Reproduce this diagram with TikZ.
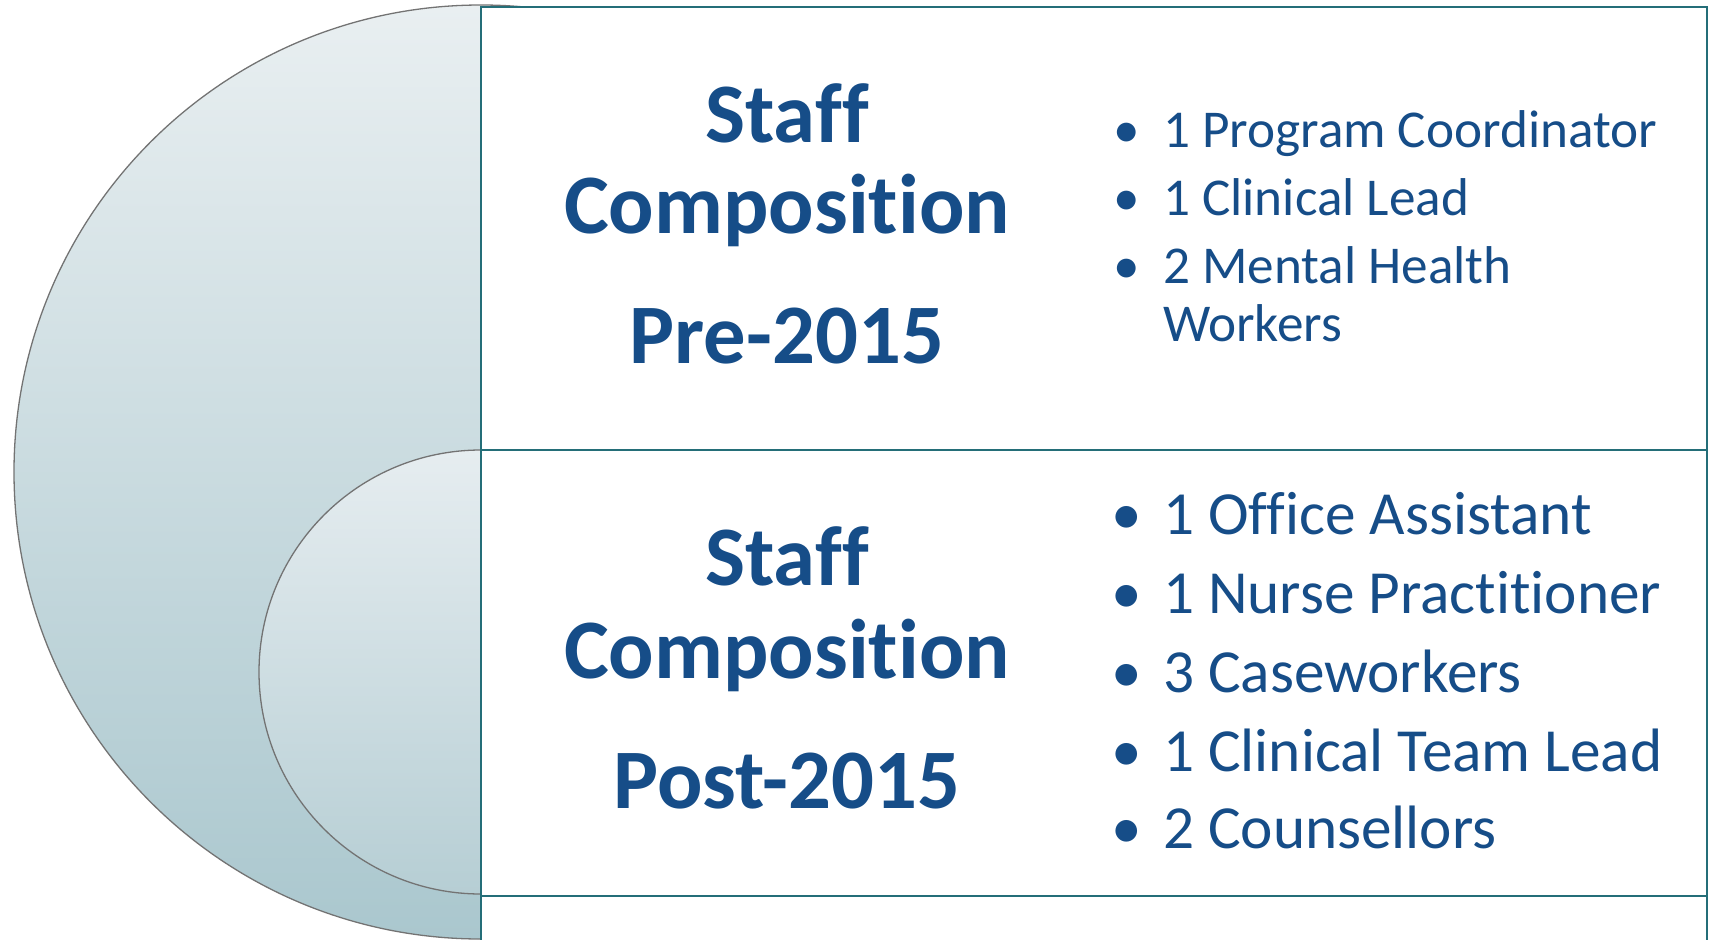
\documentclass[tikz,border=0pt]{standalone}
\usepackage{fontspec}
\setmainfont{Carlito}[Ligatures=NoCommon,RawFeature={-liga;-clig;-dlig}]
\definecolor{txtblue}{RGB}{22,77,136}
\definecolor{frame}{RGB}{36,110,120}
\definecolor{ctop}{RGB}{233,239,241}
\definecolor{cbot}{RGB}{170,199,206}
\definecolor{stop}{RGB}{230,237,240}
\definecolor{sbot}{RGB}{182,206,212}
\begin{document}
\begin{tikzpicture}[x=1bp,y=1bp,
  title/.style={font=\fontsize{85}{85}\selectfont\bfseries, text=txtblue, inner sep=0pt, anchor=base},
  itemA/.style={font=\fontsize{53.4}{53.4}\selectfont, text=txtblue, inner sep=0pt, anchor=base west},
  itemB/.style={font=\fontsize{61.5}{61.5}\selectfont, text=txtblue, inner sep=0pt, anchor=base west},
  bulA/.style={font=\fontsize{53.4}{53.4}\selectfont, text=txtblue, inner sep=0pt, anchor=base},
  bulB/.style={font=\fontsize{61.5}{61.5}\selectfont, text=txtblue, inner sep=0pt, anchor=base},
  box/.style={draw=frame, line width=1.8bp, fill=white},
  disc/.style={draw=black!55, line width=1.3bp}]
\useasboundingbox (0,0) rectangle (1709,-939);
\clip (0,0) rectangle (1709,-939);
% circles
\draw[disc, top color=ctop, bottom color=cbot] (481,-472) circle[radius=467];
\draw[disc, top color=stop, bottom color=sbot] (481,-672) circle[radius=222];
% boxes
\draw[box] (481,-7) rectangle (1707,-450);
\draw[box] (481,-450) rectangle (1707,-896);
\draw[box] (481,-896) rectangle (1707,-960);
% titles
\node[title] (t1a) at (787,-142) {Staff};
\node[title] (t1b) at (787,-233) {Composition};
\node[title] (t1c) at (787,-363) {Pre-2015};
\node[title] (t2a) at (787,-585) {Staff};
\node[title] (t2b) at (787,-678) {Composition};
\node[title] (t2c) at (787,-808) {Post-2015};
% top list
\node[bulA] (ba1) at (1127,-147) {•};
\node[itemA] (a1) at (1163,-147) {1 Program Coordinator};
\node[bulA] (ba2) at (1127,-215) {•};
\node[itemA] (a2) at (1163,-215) {1 Clinical Lead};
\node[bulA] (ba3) at (1127,-283) {•};
\node[itemA] (a3) at (1163,-283) {2 Mental Health};
\node[itemA] (a4) at (1163,-341) {Workers};
% bottom list
\node[bulB] (bb1) at (1127,-534) {•};
\node[itemB] (b1) at (1163,-534) {1 Office Assistant};
\node[bulB] (bb2) at (1127,-613) {•};
\node[itemB] (b2) at (1163,-613) {1 Nurse Practitioner};
\node[bulB] (bb3) at (1127,-692) {•};
\node[itemB] (b3) at (1163,-692) {3 Caseworkers};
\node[bulB] (bb4) at (1127,-771) {•};
\node[itemB] (b4) at (1163,-771) {1 Clinical Team Lead};
\node[bulB] (bb5) at (1127,-848) {•};
\node[itemB] (b5) at (1163,-848) {2 Counsellors};
\end{tikzpicture}
\end{document}
